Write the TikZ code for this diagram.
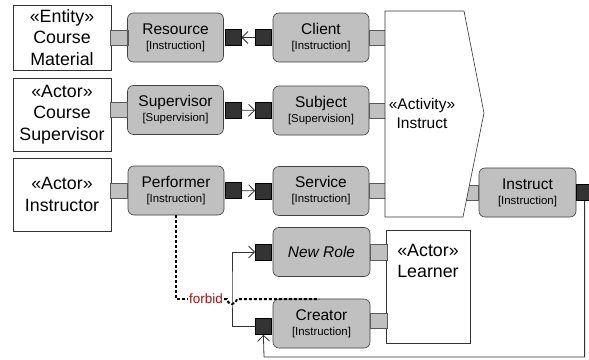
\documentclass[tikz,border=0pt]{standalone}
\usepackage{fontspec}
\setmainfont{Liberation Sans}
\usetikzlibrary{arrows.meta,positioning}
\definecolor{rolegray}{RGB}{192,192,192}
\definecolor{portdark}{RGB}{51,51,51}
\definecolor{forbidred}{RGB}{160,20,20}
\newcommand{\thingfont}{\fontsize{17.8}{21.5}\selectfont}
\newcommand{\rolefont}{\fontsize{15.5}{15}\selectfont}
\newcommand{\tagfont}{\fontsize{11.4}{14}\selectfont}
\tikzset{
  thing/.style={draw=black!80, line width=0.6pt, fill=white, minimum width=98pt, align=center, inner sep=0pt, font=\thingfont},
  role/.style={draw=black!75, line width=0.6pt, fill=rolegray, rounded corners=6pt, minimum width=96pt, minimum height=49pt, align=center, inner sep=0pt, font=\rolefont},
  lport/.style={draw=black!65, line width=0.6pt, fill=rolegray, minimum width=17pt, minimum height=15pt, inner sep=0pt},
  dport/.style={draw=black, line width=0.6pt, fill=portdark, minimum width=16pt, minimum height=16pt, inner sep=0pt},
  flow/.style={draw=black!80, line width=0.8pt, -{Straight Barb[length=6pt,width=12pt]}},
  forbidline/.style={line width=2pt, dash pattern=on 3pt off 2pt}
}

\begin{document}
\begin{tikzpicture}[x=1pt,y=-1pt]
\useasboundingbox (0,0) rectangle (589,359);

%%% ENTITY AND ACTORS %%%
\node[thing,minimum height=65pt] (material) at (62,37.5) {«Entity»\\Course\\Material};
\node[thing,minimum height=73pt] (supv) at (62,114.5) {«Actor»\\Course\\Supervisor};
\node[thing,minimum height=73pt] (instr) at (62,194.5) {«Actor»\\Instructor};
\node[thing,minimum width=84pt,minimum height=113pt] (learner) at (428,286.5) {}; % learner box
\node[font=\thingfont,align=center,below=11pt of learner.north] (learnerTxt) {«Actor»\\Learner};

%%% ROLES %%%
\node[role] (resource) at (175.5,37.5) {Resource\\{\tagfont [Instruction]}};
\node[role] (client) at (321,37.5) {Client\\{\tagfont [Instruction]}};
\node[role] (supvRole) at (175.5,110) {Supervisor\\{\tagfont [Supervision]}};
\node[role] (subject) at (321,110.5) {Subject\\{\tagfont [Supervision]}};
\node[role] (perf) at (176,190.5) {Performer\\{\tagfont [Instruction]}};
\node[role] (service) at (321,191) {Service\\{\tagfont [Instruction]}};
\node[role,minimum width=97pt] (instrRole) at (527.5,192.5) {Instruct\\{\tagfont [Instruction]}};
\node[role,minimum width=97pt] (newRole) at (321.5,252) {\itshape New Role};
\node[role,minimum width=97pt] (creator) at (321.5,323.5) {Creator\\{\tagfont [Instruction]}};

%%% PORTS %%%
\node[lport,right=0pt of material] (materialP) {};
\node[lport,left=0pt of resource] (resourceP) {};
\node[lport,left=0pt of supvRole] (supvP) {};
\node[lport,left=0pt of perf] (perfP) {};
\node[lport,right=0pt of client] (clientP) {};
\node[lport,right=0pt of subject] (subjectP) {};
\node[lport,right=0pt of service] (serviceP) {};
\node[lport,minimum width=16pt,left=0pt of instrRole] (instrRoleP) {};
\node[lport,minimum height=16pt,right=0pt of newRole] (newRoleP) {};
\node[lport,right=0pt of creator,yshift=3pt] (creatorP) {};

\node[dport,right=1pt of resource] (resOut) {};
\node[dport,left=1pt of client] (clientIn) {};
\node[dport,right=1pt of supvRole] (supvOut) {};
\node[dport,left=1pt of subject] (subjectIn) {};
\node[dport,right=1pt of perf] (perfOut) {};
\node[dport,left=1pt of service] (serviceIn) {};
\node[dport,right=0pt of instrRole] (instrOut) {};
\node[dport,left=1pt of newRole] (newIn) {};
\node[dport,left=1pt of creator,yshift=-3pt] (creatorIn) {};

%%% ACTIVITY %%%
\coordinate (actNW) at (385,11);
\coordinate (actNE) at (464,11);
\coordinate (actTip) at (484,113);
\coordinate (actSE) at (463,217);
\coordinate (actSW) at (385,217);
\draw[draw=black!80,line width=0.6pt,fill=white] (actNW) -- (actNE) -- (actTip) -- (actSE) -- (actSW) -- cycle; % activity chevron
\node[font=\fontsize{15.5}{19}\selectfont,align=center] (actTxt) at (422,113) {«Activity»\\Instruct};

%%% FLOWS %%%
\draw[flow] (clientIn) -- (resOut);
\draw[flow] (supvOut) -- (subjectIn);
\draw[flow] (perfOut) -- (serviceIn);
\coordinate (loopCorner) at (264,357); % bottom return line
\draw[flow] (instrOut.south) |- (loopCorner) -- (creatorIn.south);
\coordinate (bendL) at (232,290); % left bend to new role
\draw[flow] (creatorIn.west) -| (bendL) |- (newIn.west);

%%% FORBID %%%
\node[font=\fontsize{13.5}{14}\selectfont,text=forbidred,inner sep=1pt] (forbidLbl) at (206,299) {forbid};
\coordinate (hopA) at (227,299); % jump over the bend line
\coordinate (forbidEnd) at (319,299);
\draw[forbidline] (perf.south) |- (forbidLbl.west);
\draw[forbidline] (forbidLbl.east) -- (hopA) arc[start angle=180,end angle=0,radius=5] -- (forbidEnd);
\end{tikzpicture}
\end{document}
